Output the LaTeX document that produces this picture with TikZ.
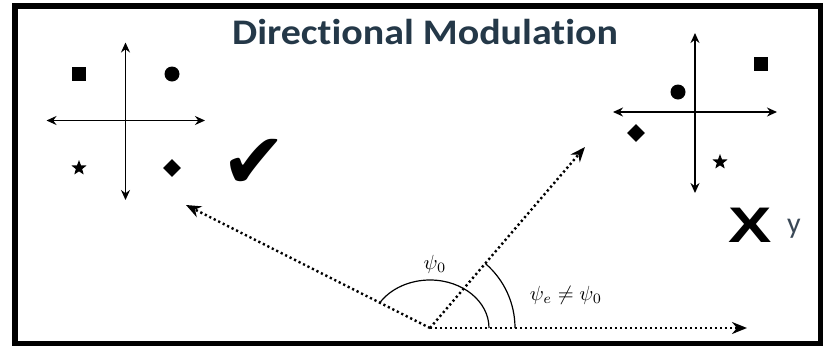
\documentclass[tikz,border=0pt]{standalone}
\usepackage{fontspec}
\usepackage{tikz}
\usetikzlibrary{arrows.meta,positioning,shapes.geometric}
\newfontfamily\titlefont{Carlito}[Ligatures=NoCommon]
\newfontfamily\dejafont{DejaVu Sans}
\newfontfamily\heavyfont{Liberation Sans}
\definecolor{titleblue}{RGB}{36,56,72}
\definecolor{ygray}{RGB}{58,72,86}

\begin{document}
\begin{tikzpicture}[x=1pt, y=-1pt,
    axis/.style={line width=1.5pt, {Stealth[length=10pt,width=9pt]}-{Stealth[length=10pt,width=9pt]}},
    beam/.style={line width=2.4pt, dash pattern=on 2.2pt off 2.8pt, -{Stealth[length=15pt,width=12pt]}},
    sym/.style={fill=black, inner sep=0pt, draw=none},
    sq/.style={sym, rectangle, minimum size=14pt},
    dot/.style={sym, circle, minimum size=15pt},
    dia/.style={sym, diamond, minimum size=18pt},
    str/.style={sym, star, star points=5, star point ratio=2.4, minimum size=16pt},
    angl/.style={line width=1.2pt},
    lbl/.style={inner sep=0pt, scale=2.05}
]
\useasboundingbox (0,0) rectangle (823,346);
\draw[line width=5.5pt] (15,6) rectangle (820.5,343.5);

\node[anchor=base, text=titleblue, xscale=1.11] (title) at (425,44) {\titlefont\bfseries\fontsize{36}{40}\selectfont Directional Modulation};

% intended receiver
\coordinate (lN) at (125.5,42.5);
\coordinate (lS) at (125.5,200);
\coordinate (lW) at (46.5,120.5);
\coordinate (lE) at (205,120.5);
\draw[axis] (lN) -- (lS);
\draw[axis] (lW) -- (lE);
\node[sq] (lsq) at (79,74) {};
\node[dot] (ldot) at (172,74) {};
\node[str] (lstar) at (79,168) {};
\node[dia] (ldia) at (172,168) {};
\node (tick) at (254,164) {\dejafont\fontsize{78}{78}\selectfont ✔};

% eavesdropper
\coordinate (rN) at (695,33);
\coordinate (rS) at (695,193);
\coordinate (rW) at (613,112);
\coordinate (rE) at (777,112);
\draw[axis] (rN) -- (rS);
\draw[axis] (rW) -- (rE);
\node[sq] (rsq) at (761,64) {};
\node[dot] (rdot) at (678,92) {};
\node[dia] (rdia) at (636,133) {};
\node[str] (rstar) at (720,162) {};
\node[xscale=1.3] (cross) at (750,225) {\heavyfont\bfseries\fontsize{50}{50}\selectfont X};
\node[anchor=base, text=ygray] (ylbl) at (794,233) {\titlefont\fontsize{30}{30}\selectfont y};

% beams
\coordinate (o) at (430,328);
\coordinate (bob) at (186,205);
\coordinate (eve) at (585,147);
\coordinate (ref) at (747,328);
\draw[beam] (o) -- (ref);
\draw[beam] (o) -- (eve);
\draw[beam] (o) -- (bob);
\draw[angl] (o) ++(59pt,0pt) arc[start angle=0, end angle=148.2, x radius=59pt, y radius=48pt];
\draw[angl] (o) ++(85pt,0pt) arc[start angle=0, end angle=49.4, radius=85pt];
\node[lbl] (psi0) at (435,264) {$\psi_0$};
\node[lbl] (psie) at (566,295) {$\psi_e \neq \psi_0$};
\end{tikzpicture}
\end{document}
